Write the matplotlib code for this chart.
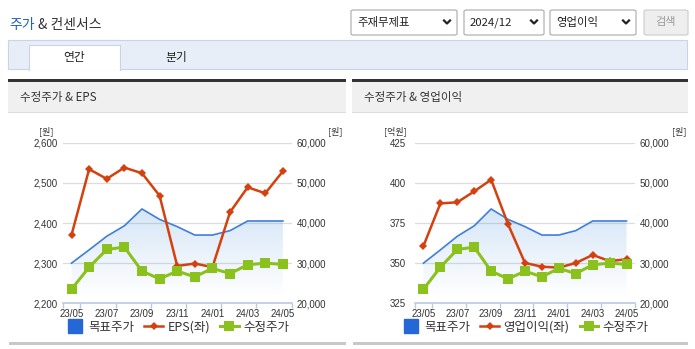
import matplotlib
matplotlib.use("Agg")
import matplotlib.pyplot as plt
import numpy as np
from matplotlib.patches import Rectangle, FancyBboxPatch
from matplotlib.lines import Line2D
from matplotlib import font_manager

# ---------------- data ----------------
months = ["23/05", "23/06", "23/07", "23/08", "23/09", "23/10", "23/11",
          "23/12", "24/01", "24/02", "24/03", "24/04", "24/05"]
tick_labels = ["23/05", "23/07", "23/09", "23/11", "24/01", "24/03", "24/05"]
target_price = [30000, 33300, 36700, 39300, 43500, 40900, 39100,
                37000, 37000, 38100, 40500, 40500, 40500]
adj_price = [23500, 29000, 33400, 34000, 28000, 26100, 28000,
             26600, 28700, 27400, 29600, 30000, 29700]
eps = [2370, 2534, 2510, 2538, 2524, 2468, 2293,
       2299, 2290, 2427, 2489, 2474, 2529]
op_income = [360.7, 387.2, 387.9, 394.7, 402.0, 374.2, 350.1,
             347.8, 347.2, 350.1, 355.1, 351.3, 352.4]
eps_ticks = [2200, 2300, 2400, 2500, 2600]
op_ticks = [325, 350, 375, 400, 425]
price_ticks = [20000, 30000, 40000, 50000, 60000]

# ---------------- fonts ----------------
KR = ['Noto Sans CJK KR', 'DejaVu Sans']
avail = {f.name for f in font_manager.fontManager.ttflist}
NUM = 'Liberation Sans Narrow' if 'Liberation Sans Narrow' in avail else 'Liberation Sans'
plt.rcParams['font.family'] = KR

W, H = 695, 349
fig = plt.figure(figsize=(W / 100, H / 100), dpi=100)
fig.patch.set_facecolor('white')

BLUE = '#3f7fd8'
RED = '#d4400e'
GREEN = '#8bc11c'
TXT = '#333333'


def rect(x0, y0, x1, y1, fc, ec='none', lw=0, z=0):
    r = Rectangle((x0 / W, 1 - y1 / H), (x1 - x0) / W, (y1 - y0) / H,
                  transform=fig.transFigure, facecolor=fc, edgecolor=ec,
                  linewidth=lw, zorder=z)
    fig.patches.append(r)
    return r


def rrect(x0, y0, x1, y1, fc, ec, lw=0.8):
    r = FancyBboxPatch((x0 / W, 1 - y1 / H), (x1 - x0) / W, (y1 - y0) / H,
                       boxstyle="round,pad=0,rounding_size=0.004",
                       transform=fig.transFigure, facecolor=fc, edgecolor=ec,
                       linewidth=lw)
    fig.patches.append(r)


def txt(x, y, s, **kw):
    kw.setdefault('va', 'center')
    fig.text(x / W, 1 - y / H, s, **kw)


def line(xs, ys, **kw):
    fig.lines.append(Line2D([x / W for x in xs], [1 - y / H for y in ys],
                            transform=fig.transFigure, **kw))


# ---------------- page header ----------------
t = fig.text(9 / W, 1 - 25 / H, "주가", color='#1f5fce', fontsize=10,
             va='center', family=KR)
fig.canvas.draw()
bb = t.get_window_extent()
fig.text((bb.x1 + 4) / W, 1 - 25 / H, "& 컨센서스", color=TXT, fontsize=10,
         va='center', family=KR)

dropdowns = [(351, 457, "주재무제표"), (464, 544, "2024/12"), (550, 636, "영업이익")]
for x0, x1, s in dropdowns:
    rrect(x0, 10, x1, 35, 'white', '#a9a9a9')
    txt(x0 + 6, 22.5, s, fontsize=8.2, color='#222222', family=KR)
    cx = x1 - 10
    line([cx - 3, cx, cx + 3], [20.5, 23.5, 20.5], color='#222222', lw=1.6)
rrect(644, 10, 688, 35, '#eeeeee', '#cccccc')
txt(666, 22.5, "검색", fontsize=8, color='#9a9a9a', ha='center', family=KR)

# tab bar
rect(8, 40, 687, 69, '#e8eef8', '#c9d5e6', 0.8)
rect(29, 45, 120, 70, 'white', 'none')
line([29, 29, 120, 120], [70, 45, 45, 70], color='#c9d5e6', lw=0.8)
txt(74, 57, "연간", fontsize=8.5, color='#222222', ha='center', family=KR)
txt(176, 57, "분기", fontsize=8.5, color='#222222', ha='center', family=KR)

# ---------------- panels ----------------
panels = [
    dict(x0=8, x1=346, title="수정주가 & EPS", ax=(62.7, 291.7),
         left=eps, lticks=eps_ticks, lname="EPS(좌)", lunit="[원]",
         lunit_x=46),
    dict(x0=352, x1=688, title="수정주가 & 영업이익", ax=(415, 635),
         left=op_income, lticks=op_ticks, lname="영업이익(좌)", lunit="[억원]",
         lunit_x=395),
]

x = np.arange(len(months))
tick_idx = [months.index(m) for m in tick_labels]

for p in panels:
    rect(p['x0'], 79, p['x1'], 81.5, '#333333')
    rect(p['x0'], 81.5, p['x1'], 111.5, '#f0f0f0')
    rect(p['x0'], 111.5, p['x1'], 112.5, '#dddddd')
    txt(p['x0'] + 12, 97, p['title'], fontsize=8.3, color=TXT, family=KR)
    rect(p['x0'] + 1, 342, p['x1'], 344.5, '#c8c8c8')

    ax0, ax1 = p['ax']
    top, bot = 142.7, 303.3
    rect_ax = [ax0 / W, 1 - bot / H, (ax1 - ax0) / W, (bot - top) / H]

    # price axis (bottom layer): fill + target line, ticks on the right
    axp = fig.add_axes(rect_ax)
    axp.set_xlim(-0.5, len(months) - 0.5)
    axp.set_ylim(price_ticks[0], price_ticks[-1])
    poly = axp.fill_between(x, target_price, price_ticks[0],
                            facecolor='none', edgecolor='none')
    grad = np.zeros((256, 1, 4))
    c = matplotlib.colors.to_rgb('#5b9be0')
    grad[:, 0, 0], grad[:, 0, 1], grad[:, 0, 2] = c
    yy = np.linspace(price_ticks[0], 44500, 256)
    grad[:, 0, 3] = np.clip((yy - 21500) / (44500 - 21500), 0, 1) * 0.27
    im = axp.imshow(grad, extent=[-0.5, len(months) - 0.5, price_ticks[0], 44500],
                    origin='lower', aspect='auto', zorder=1)
    im.set_clip_path(poly.get_paths()[0], transform=axp.transData)
    axp.set_xlim(-0.5, len(months) - 0.5)
    axp.set_ylim(price_ticks[0], price_ticks[-1])
    axp.plot(x, target_price, color=BLUE, lw=1.2, zorder=3)
    axp.set_yticks(price_ticks)
    axp.set_yticklabels([f"{v:,}" for v in price_ticks])
    axp.yaxis.tick_right()
    axp.tick_params(axis='y', length=0, pad=3.5, labelsize=7, labelcolor=TXT)
    for lab in axp.get_yticklabels():
        lab.set_family(NUM)
    axp.grid(axis='y', color='#dcdcdc', lw=0.9, zorder=0)
    axp.set_axisbelow(True)
    for s in ['top', 'left', 'right']:
        axp.spines[s].set_visible(False)
    axp.spines['bottom'].set_color('#b9cbe0')
    axp.spines['bottom'].set_linewidth(1.2)
    axp.set_xticks(tick_idx)
    axp.set_xticklabels(tick_labels)
    axp.set_xticks(np.r_[-0.5, np.arange(0.5, len(months), 2)], minor=True)
    axp.tick_params(axis='x', which='major', length=0, pad=4, labelsize=7,
                    labelcolor=TXT)
    axp.tick_params(axis='x', which='minor', length=3.5, color='#b9cbe0',
                    width=1)
    for lab in axp.get_xticklabels():
        lab.set_family(NUM)

    # left-value axis (EPS / op income)
    axl = fig.add_axes(rect_ax, sharex=axp)
    axl.patch.set_visible(False)
    for s in axl.spines.values():
        s.set_visible(False)
    axl.set_ylim(p['lticks'][0], p['lticks'][-1])
    axl.plot(x, p['left'], color=RED, lw=1.8, marker='D', ms=4.5,
             markeredgewidth=0, zorder=4)
    axl.set_yticks(p['lticks'])
    axl.set_yticklabels([f"{v:,}" for v in p['lticks']])
    axl.tick_params(axis='y', length=0, pad=12.5, labelsize=7, labelcolor=TXT)
    for lab in axl.get_yticklabels():
        lab.set_family(NUM)
        lab.set_horizontalalignment('center')
    axl.tick_params(axis='x', which='both', bottom=False, labelbottom=False)

    # top layer: adjusted price
    axg = fig.add_axes(rect_ax, sharex=axp, sharey=axp)
    axg.patch.set_visible(False)
    axg.axis('off')
    axg.plot(x, adj_price, color=GREEN, lw=2.2, marker='s', ms=6.8,
             markeredgewidth=0, zorder=5)

    # unit labels
    txt(p['lunit_x'], 131, p['lunit'], fontsize=6.5, color=TXT, ha='center',
        family=KR)
    txt(ax1 + 44, 131, "[원]", fontsize=6.5, color=TXT, ha='center', family=KR)

    # legend
    handles = [
        Line2D([], [], color='#2468d8', marker='s', ls='none', ms=10),
        Line2D([], [], color=RED, marker='D', ms=4.5, lw=1.8, markeredgewidth=0),
        Line2D([], [], color=GREEN, marker='s', ms=6.5, lw=2.2, markeredgewidth=0),
    ]
    labels = ["목표주가", p['lname'], "수정주가"]
    cx = (ax0 + ax1) / 2
    leg = fig.legend(handles, labels, loc='center',
                     bbox_to_anchor=(cx / W, 1 - 327 / H), ncol=3,
                     frameon=False, handlelength=1.5,
                     handletextpad=0.35, columnspacing=0.8,
                     prop={'family': KR, 'size': 9})
    for tx in leg.get_texts():
        tx.set_color(TXT)

fig.savefig("out.png", dpi=100, facecolor='white')
